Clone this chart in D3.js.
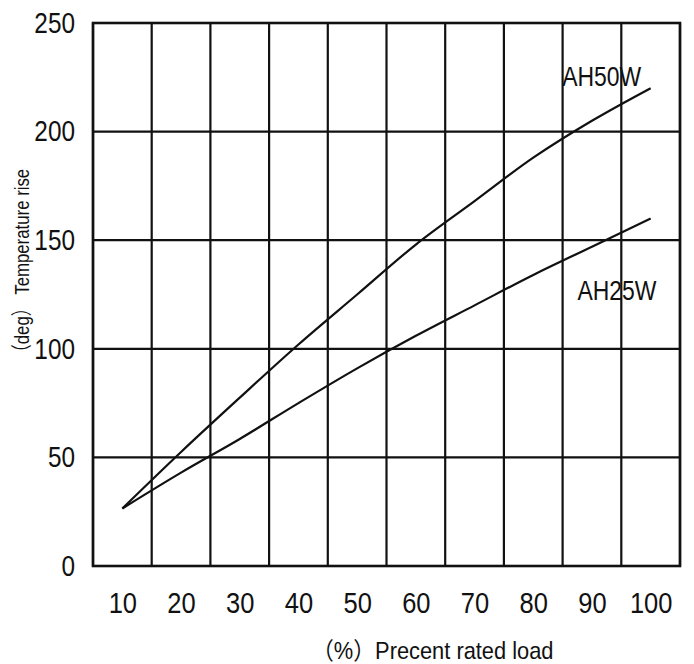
<!DOCTYPE html>
<html>
<head>
<meta charset="utf-8">
<script src="https://cdn.jsdelivr.net/npm/d3@7"></script>
<style>
  html, body { margin: 0; padding: 0; background: #fff; }
  svg { display: block; }
  text { font-family: "Liberation Sans", "Noto Sans CJK SC", sans-serif; fill: #111; }
</style>
</head>
<body>
<svg id="chart" width="694" height="664"></svg>
<script>
// ---- data ----
const loadPct = [10, 20, 30, 40, 50, 60, 70, 80, 90, 100];
const ah50w   = [26.5, 52.5, 77.5, 102, 125, 148, 168, 188, 205, 220];
const ah25w   = [26.5, 43, 58.5, 75, 91, 106, 120, 134, 147, 160];
const xTickLabels = ["10","20","30","40","50","60","70","80","90","100"];
const yTickValues = [0, 50, 100, 150, 200, 250];
const xGridValues = [5, 15, 25, 35, 45, 55, 65, 75, 85, 95, 105];
const seriesNames = ["AH50W", "AH25W"];
const labelAnchorX = [98.4, 101];
const labelAnchorY = [221, 122.5];
const xTitle = "（%）Precent rated load";
const yTitle = "（deg） Temperature rise";

// ---- layout ----
const W = 694, H = 664;
const m = { left: 93, right: 14, top: 23, bottom: 98 };
const svg = d3.select("#chart");

const x = d3.scaleLinear().domain([5, 105]).range([m.left, W - m.right]);
const y = d3.scaleLinear().domain([0, 250]).range([H - m.bottom, m.top]);

// condense text horizontally (narrow face look)
function narrow(sel, sx) {
  sel.each(function () {
    const t = d3.select(this);
    const tx = +t.attr("x") || 0, ty = +t.attr("y") || 0;
    t.attr("x", 0).attr("y", 0)
     .attr("transform", `translate(${tx},${ty}) scale(${sx},1)`);
  });
}

const g = svg.append("g");

// vertical grid
g.selectAll("line.vg").data(xGridValues).enter().append("line")
  .attr("x1", d => x(d)).attr("x2", d => x(d))
  .attr("y1", y(250)).attr("y2", y(0))
  .attr("stroke", "#111").attr("stroke-width", 2.2);

// horizontal grid
g.selectAll("line.hg").data(yTickValues).enter().append("line")
  .attr("x1", x(5)).attr("x2", x(105))
  .attr("y1", d => y(d)).attr("y2", d => y(d))
  .attr("stroke", "#111").attr("stroke-width", 2.2);

// frame
g.append("rect")
  .attr("x", x(5)).attr("y", y(250))
  .attr("width", x(105) - x(5)).attr("height", y(0) - y(250))
  .attr("fill", "none").attr("stroke", "#111").attr("stroke-width", 2.6);

// y axis labels
const yAxis = d3.axisLeft(y).tickValues(yTickValues).tickSize(0).tickPadding(18);
const ya = svg.append("g").attr("transform", `translate(${m.left},0)`).call(yAxis);
ya.select(".domain").remove();
ya.selectAll("text").attr("font-size", 29).attr("fill", "#111")
  .style("font-family", '"Liberation Sans", sans-serif');
narrow(ya.selectAll("text"), 0.84);

// x axis labels
const xAxis = d3.axisBottom(x).tickValues(loadPct).tickFormat((d, i) => xTickLabels[i]).tickSize(0).tickPadding(26);
const xa = svg.append("g").attr("transform", `translate(0,${y(0)})`).call(xAxis);
xa.select(".domain").remove();
xa.selectAll("text").attr("font-size", 30).attr("fill", "#111")
  .style("font-family", '"Liberation Sans", sans-serif');
narrow(xa.selectAll("text"), 0.85);

// curves
const line = d3.line().x(d => x(d[0])).y(d => y(d[1])).curve(d3.curveCatmullRom.alpha(0.5));
const series = [ah50w, ah25w];
series.forEach(vals => {
  svg.append("path")
    .datum(loadPct.map((p, i) => [p, vals[i]]))
    .attr("d", line)
    .attr("fill", "none").attr("stroke", "#111").attr("stroke-width", 2.2);
});

// series labels
seriesNames.forEach((name, i) => {
  const t = svg.append("text")
    .attr("x", x(labelAnchorX[i])).attr("y", y(labelAnchorY[i]))
    .attr("text-anchor", "end").attr("font-size", 27)
    .text(name);
  narrow(t, 0.85);
});

// axis titles
const xt = svg.append("text")
  .attr("x", 312).attr("y", 659)
  .attr("font-size", 24)
  .text(xTitle);
narrow(xt, 0.91);

svg.append("text")
  .attr("transform", `translate(29,361) rotate(-90) scale(0.8,1)`)
  .attr("font-size", 21)
  .text(yTitle);
</script>
</body>
</html>
